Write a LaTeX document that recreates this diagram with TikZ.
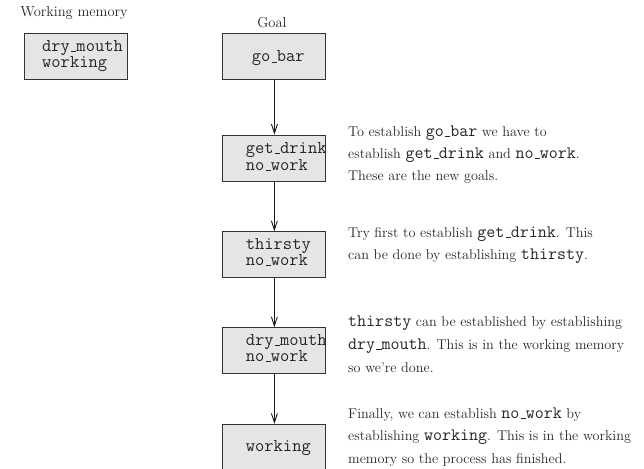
\documentclass[tikz,border=0pt]{standalone}
\usepackage{fontspec}
\usetikzlibrary{arrows.meta}
\newcommand\us{\kern.06em\vbox{\hrule width.3em height .4pt}}
\newcommand\code[1]{{\fontsize{17.5}{22}\ttfamily #1}}
\tikzset{
  x=1pt, y=-1pt,
  membox/.style={draw=black!80, fill=black!10, line width=0.9pt, minimum width=103pt, minimum height=46pt, inner sep=0pt},
  boxtext/.style={font=\fontsize{18}{16.5}\ttfamily, inner sep=0pt, anchor=base west, align=left, text=black!85},
  txt/.style={font=\fontsize{14.2}{22}\selectfont, inner sep=0pt, anchor=base west, text=black!85},
  head/.style={font=\fontsize{14.5}{22}\selectfont, inner sep=0pt, anchor=base, text=black!85},
  arr/.style={-{Straight Barb[length=9pt,width=6pt]}, line width=0.9pt, draw=black!90},
}
\begin{document}
\begin{tikzpicture}
\useasboundingbox (0,0) rectangle (644,468);
% headings
\node[head] (wmh) at (74,17) {Working memory};
\node[head] (goalh) at (272,28) {Goal};
% working memory box
\node[membox] (wm) at (76.3,56) {};
\node[boxtext] (wm1) at (42,68) {dry\us mouth\\working};
% goal boxes
\node[membox] (g1) at (274.4,56) {};
\node[boxtext] (g1a) at (251.7,62) {go\us bar};
\node[membox] (g2) at (274.4,158) {};
\node[boxtext] (g2a) at (245.7,170) {get\us drink\\no\us work};
\node[membox] (g3) at (274.4,254.7) {};
\node[boxtext] (g3a) at (245.7,265.8) {thirsty\\no\us work};
\node[membox] (g4) at (274.4,350.7) {};
\node[boxtext] (g4a) at (245.7,361.7) {dry\us mouth\\no\us work};
\node[membox] (g5) at (274.4,447.3) {};
\node[boxtext] (g5a) at (245.7,451.7) {working};
% arrows
\draw[arr] (g1.south) -- (g2.north);
\draw[arr] (g2.south) -- (g3.north);
\draw[arr] (g3.south) -- (g4.north);
\draw[arr] (g4.south) -- (g5.north);
% explanations
\node[txt] (t11) at (348,136) {To establish \code{go\us bar} we have to};
\node[txt] (t12) at (348,158) {establish \code{get\us drink} and \code{no\us work}.};
\node[txt] (t13) at (348,180) {These are the new goals.};
\node[txt] (t21) at (348,237.5) {Try first to establish \code{get\us drink}. This};
\node[txt] (t22) at (348,259.7) {can be done by establishing \code{thirsty}.};
\node[txt] (t31) at (348,326.7) {\code{thirsty} can be established by establishing};
\node[txt] (t32) at (348,349.5) {\code{dry\us mouth}. This is in the working memory};
\node[txt] (t33) at (348,372) {so we're done.};
\node[txt] (t41) at (348,418.3) {Finally, we can establish \code{no\us work} by};
\node[txt] (t42) at (348,440.7) {establishing \code{working}. This is in the working};
\node[txt] (t43) at (348,463) {memory so the process has finished.};
\end{tikzpicture}
\end{document}
